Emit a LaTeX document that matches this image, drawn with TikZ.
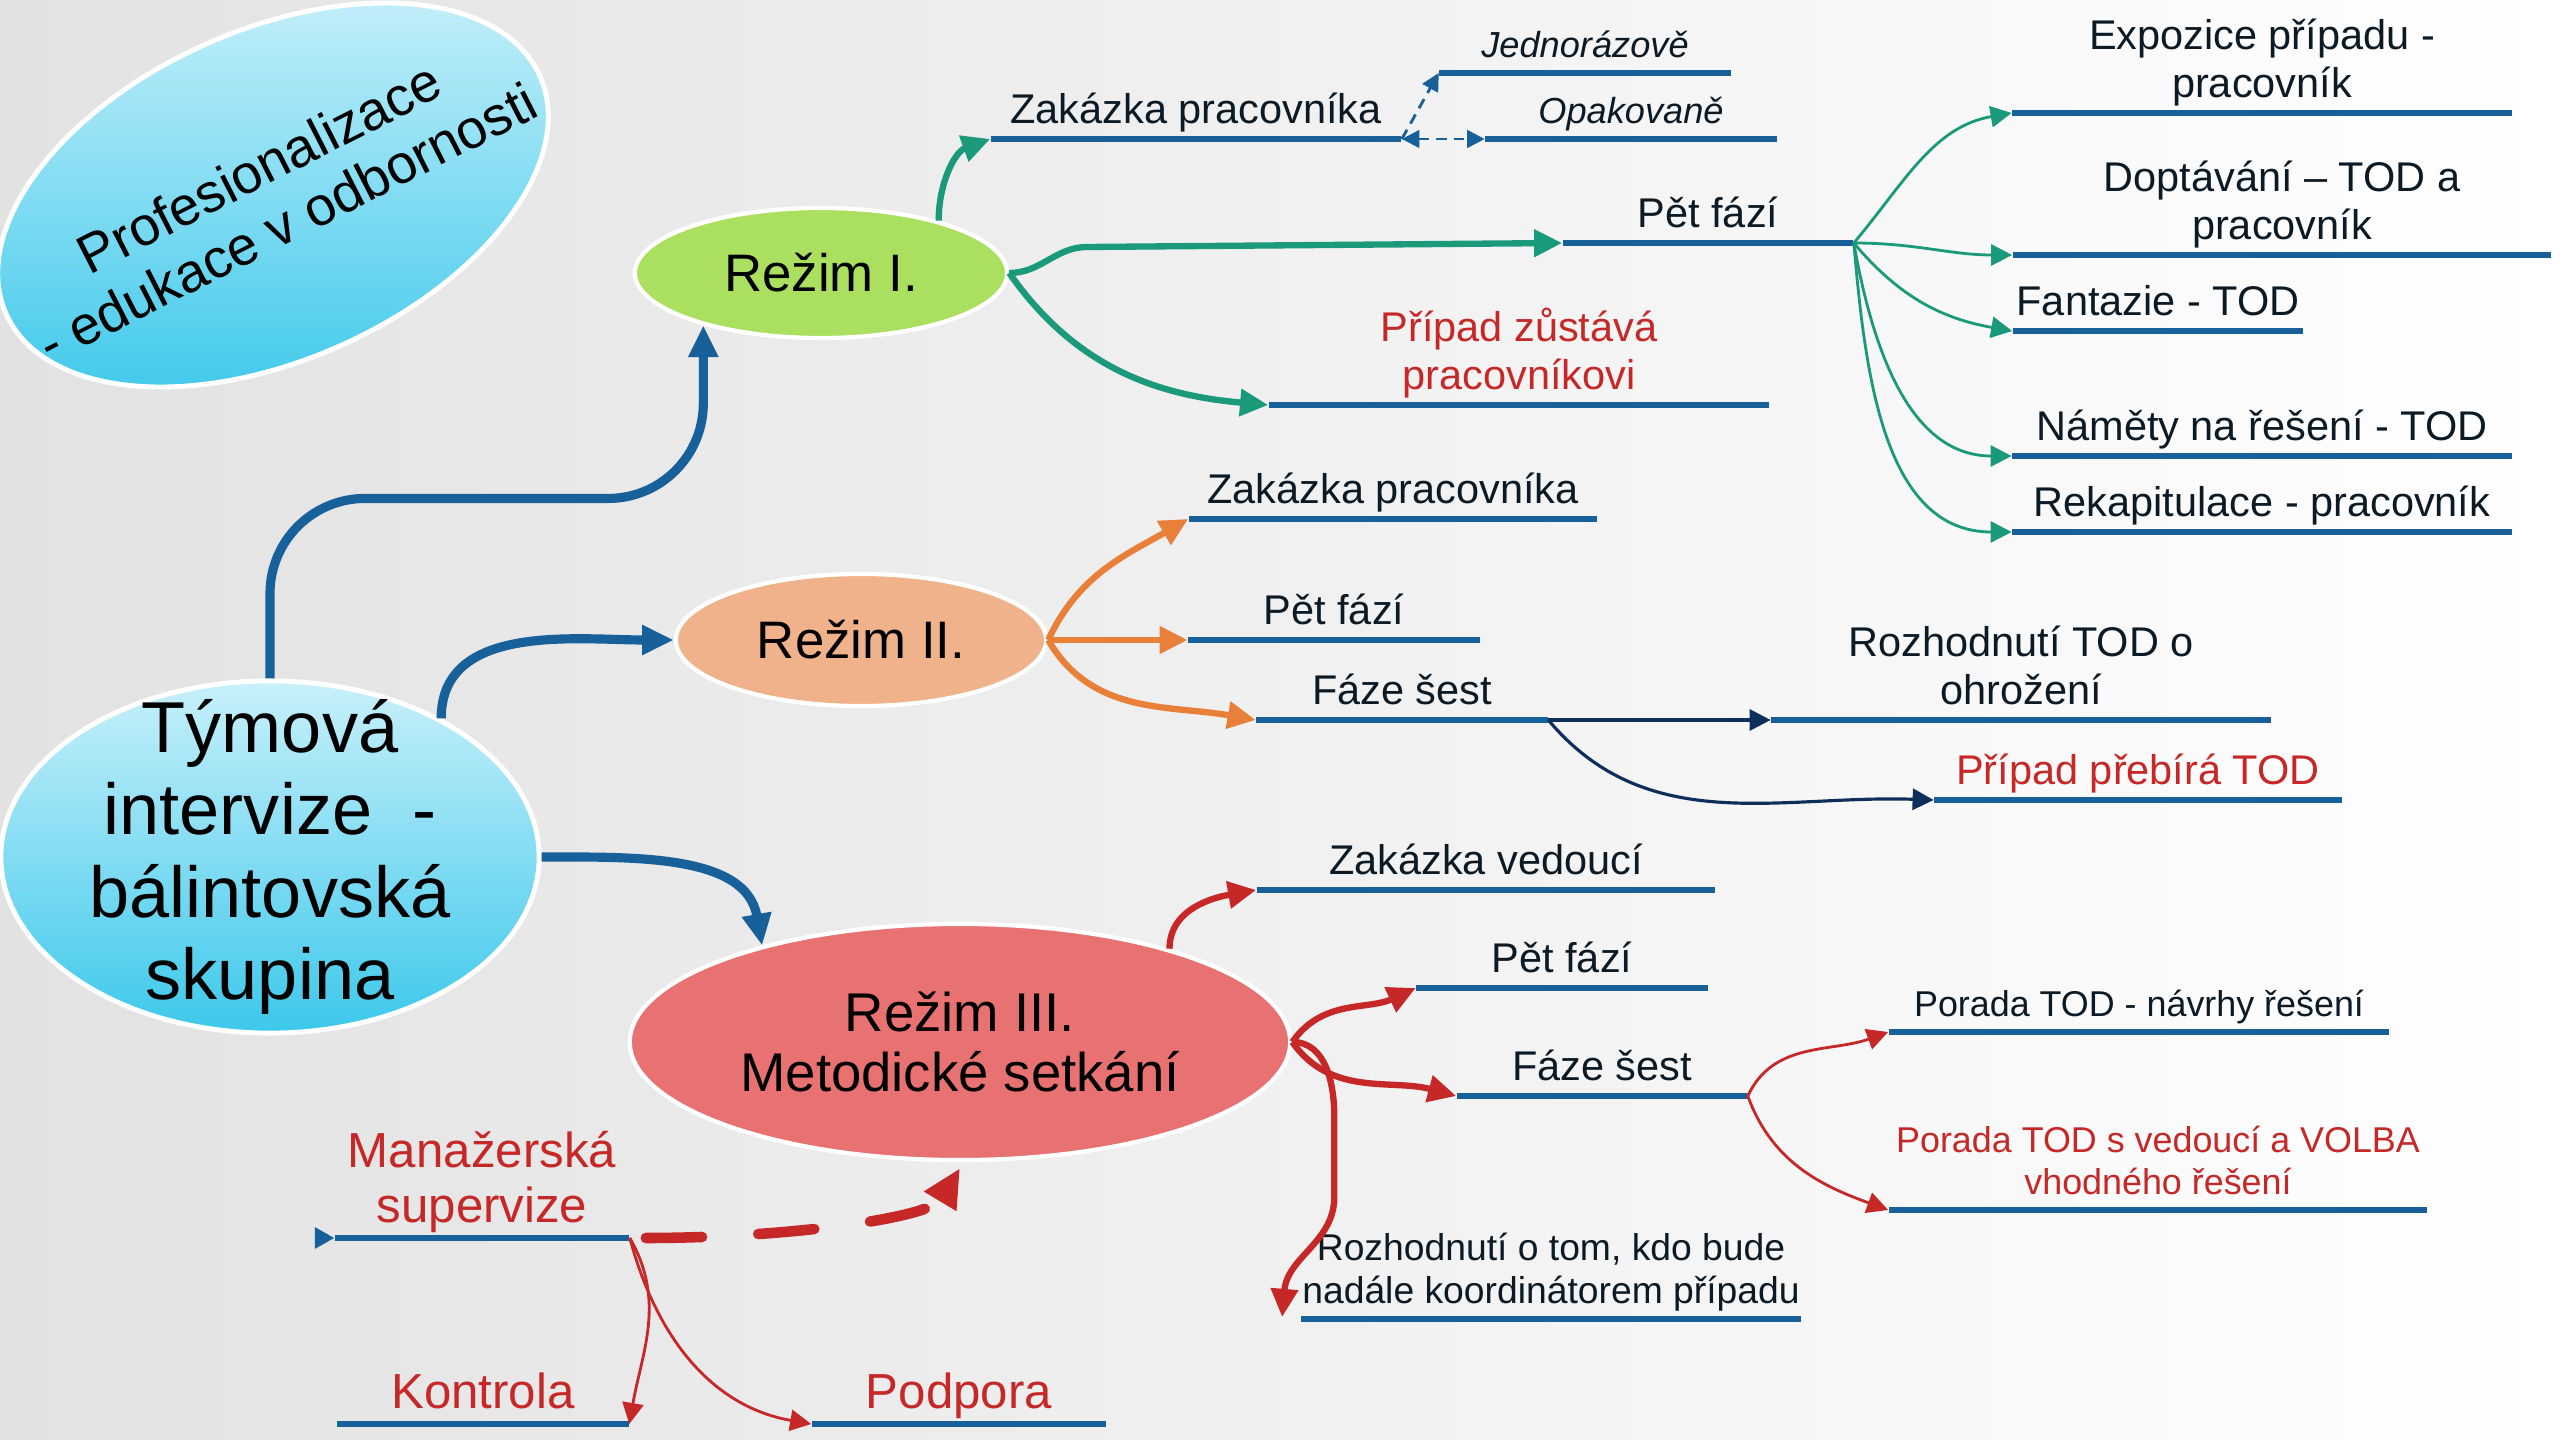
\documentclass[tikz,border=0pt]{standalone}
\usepackage{fontspec}
\setmainfont{Liberation Sans}
\usetikzlibrary{arrows.meta, shapes.geometric, positioning}

\definecolor{barblue}{HTML}{17609A}
\definecolor{tealc}{HTML}{1B9A7B}
\definecolor{orangec}{HTML}{E8803A}
\definecolor{navyc}{HTML}{0E2E5C}
\definecolor{redc}{HTML}{C62828}
\definecolor{textdark}{HTML}{0C1A26}
\definecolor{greenfill}{HTML}{ABDF5F}
\definecolor{peachfill}{HTML}{F0B28A}
\definecolor{rosefill}{HTML}{E87272}
\definecolor{cyanlight}{HTML}{C8F0FA}
\definecolor{cyandark}{HTML}{3CC8EB}
\definecolor{bgleft}{HTML}{E2E2E2}

\begin{document}
\begin{tikzpicture}[x=0.01cm, y=0.01cm,
    ubar/.style={rectangle, fill=barblue, inner sep=0pt, minimum height=0.065cm},
    lbl/.style={inner sep=0pt, text depth=0.22em, align=center, text=textdark,
        font=\fontsize{11.8}{13.6}\selectfont},
    smalllbl/.style={lbl, font=\fontsize{10.2}{11.7}\selectfont},
    redlbl/.style={lbl, text=redc, font=\fontsize{14}{15.4}\selectfont},
    rezim/.style={ellipse, draw=white, line width=1.2pt, inner sep=1pt,
        font=\fontsize{15}{17.2}\selectfont},
    bubble/.style={ellipse, draw=white, line width=1.4pt, top color=cyanlight, bottom color=cyandark},
    mainarr/.style={draw=barblue, line width=2.6pt, -{Triangle[length=9pt,width=8pt]}},
    tealthick/.style={draw=tealc, line width=1.8pt, -{Triangle[length=8pt,width=7.5pt]}},
    tealthin/.style={draw=tealc, line width=0.8pt, -{Triangle[length=6pt,width=6pt]}},
    orangearr/.style={draw=orangec, line width=1.8pt, -{Triangle[length=8pt,width=7.5pt]}},
    navyarr/.style={draw=navyc, line width=0.9pt, -{Triangle[length=6pt,width=6pt]}},
    redthick/.style={draw=redc, line width=1.8pt, -{Triangle[length=8pt,width=7.5pt]}},
    redthin/.style={draw=redc, line width=0.8pt, -{Triangle[length=6pt,width=6pt]}},
    dotarr/.style={draw=barblue, line width=0.8pt, densely dashed},
    dasharr/.style={draw=redc, line width=3pt, line cap=round, dash pattern=on 16pt off 16pt,
        -{Triangle[length=11pt,width=10pt]}}
]
    \useasboundingbox (0,0) rectangle (2560,-1440);
    \fill[left color=bgleft, right color=white] (0,0) rectangle (2560,-1440);

    % bubbles and modes
    \node[bubble, rotate=24, minimum width=5.84cm, minimum height=3.30cm] (prof) at (273,-195) {};
    \node[rotate=27, align=center, font=\fontsize{15.5}{17.5}\selectfont] (prof-t) at (prof.center) {Profesionalizace\\- edukace v odbornosti};
    \node[bubble, minimum width=5.38cm, minimum height=3.52cm] (tymova) at (270,-857) {};
    \node[align=center, font=\fontsize{20.5}{23.4}\selectfont] (tymova-t) at (tymova.center) {Týmová\\intervize\ \ -\\bálintovská\\skupina};

    \node[rezim, fill=greenfill, minimum width=3.72cm, minimum height=1.30cm] (rezimI) at (821,-273) {Režim I.};
    \node[rezim, fill=peachfill, minimum width=3.70cm, minimum height=1.32cm] (rezimII) at (861,-640) {Režim II.};
    \node[rezim, fill=rosefill, minimum width=6.60cm, minimum height=2.36cm, align=center,
        font=\fontsize{15.5}{17.2}\selectfont] (rezimIII) at (960,-1042) {Režim III.\\Metodické setkání};

    % bars of mode I
    \node[ubar, minimum width=4.10cm] (zakI) at (1196,-139) {};
    \node[ubar, minimum width=2.91cm] (jedno) at (1585,-73) {};
    \node[ubar, minimum width=2.91cm] (opak) at (1631,-139) {};
    \node[ubar, minimum width=2.90cm] (petI) at (1708,-243) {};
    \node[ubar, minimum width=5.00cm] (pripad) at (1519,-405) {};
    \node[ubar, minimum width=4.99cm] (expo) at (2262,-113) {};
    \node[ubar, minimum width=5.38cm] (dopt) at (2282,-255) {};
    \node[ubar, minimum width=2.90cm] (fant) at (2158,-331) {};
    \node[ubar, minimum width=4.99cm] (namety) at (2262,-456) {};
    \node[ubar, minimum width=4.99cm] (rekap) at (2262,-532) {};

    \node[lbl, above=1pt of zakI] (zakI-t) {Zakázka pracovníka};
    \node[smalllbl, above=1pt of jedno, font=\fontsize{10.3}{11.8}\selectfont\itshape] (jedno-t) {Jednorázově};
    \node[smalllbl, above=1pt of opak, font=\fontsize{10.3}{11.8}\selectfont\itshape] (opak-t) {Opakovaně};
    \node[lbl, above=1pt of petI] (petI-t) {Pět fází};
    \node[lbl, above=1pt of pripad, text=redc] (pripad-t) {Případ zůstává\\pracovníkovi};
    \node[lbl, above=1pt of expo] (expo-t) {Expozice případu -\\pracovník};
    \node[lbl, above=1pt of dopt] (dopt-t) {Doptávání – TOD a\\pracovník};
    \node[lbl, above=1pt of fant] (fant-t) {Fantazie - TOD};
    \node[lbl, above=1pt of namety] (namety-t) {Náměty na řešení - TOD};
    \node[lbl, above=1pt of rekap] (rekap-t) {Rekapitulace - pracovník};

    % bars of mode II
    \node[ubar, minimum width=4.08cm] (zakII) at (1393,-519) {};
    \node[ubar, minimum width=2.91cm] (petII) at (1334,-640) {};
    \node[ubar, minimum width=2.91cm] (fazeII) at (1402,-720) {};
    \node[ubar, minimum width=4.99cm] (rozh) at (2021,-720) {};
    \node[ubar, minimum width=4.07cm] (prebira) at (2138,-800) {};

    \node[lbl, above=1pt of zakII] (zakII-t) {Zakázka pracovníka};
    \node[lbl, above=1pt of petII] (petII-t) {Pět fází};
    \node[lbl, above=1pt of fazeII] (fazeII-t) {Fáze šest};
    \node[lbl, above=1pt of rozh] (rozh-t) {Rozhodnutí TOD o\\ohrožení};
    \node[lbl, above=1pt of prebira, text=redc] (prebira-t) {Případ přebírá TOD};

    % bars of mode III
    \node[ubar, minimum width=4.58cm] (zakIII) at (1486,-890) {};
    \node[ubar, minimum width=2.91cm] (petIII) at (1562,-988) {};
    \node[ubar, minimum width=2.90cm] (fazeIII) at (1602,-1096) {};
    \node[ubar, minimum width=5.00cm] (porA) at (2139,-1032) {};
    \node[ubar, minimum width=5.38cm] (porB) at (2158,-1210) {};
    \node[ubar, minimum width=5.00cm] (koord) at (1551,-1319) {};

    \node[lbl, above=1pt of zakIII] (zakIII-t) {Zakázka vedoucí};
    \node[lbl, above=1pt of petIII] (petIII-t) {Pět fází};
    \node[lbl, above=1pt of fazeIII] (fazeIII-t) {Fáze šest};
    \node[smalllbl, above=1pt of porA] (porA-t) {Porada TOD - návrhy řešení};
    \node[smalllbl, above=1pt of porB, text=redc] (porB-t) {Porada TOD s vedoucí a VOLBA\\vhodného řešení};
    \node[smalllbl, above=1pt of koord, font=\fontsize{10.6}{12.2}\selectfont] (koord-t) {Rozhodnutí o tom, kdo bude\\nadále koordinátorem případu};

    % managerial supervision
    \node[ubar, minimum width=2.94cm] (manaz) at (482,-1238) {};
    \node[ubar, minimum width=2.91cm] (kontr) at (483,-1424) {};
    \node[ubar, minimum width=2.94cm] (podp) at (959,-1424) {};

    \node[redlbl, above=1pt of manaz] (manaz-t) {Manažerská\\supervize};
    \node[redlbl, above=1pt of kontr] (kontr-t) {Kontrola};
    \node[redlbl, above=1pt of podp] (podp-t) {Podpora};

    % connectors
    \draw[mainarr, rounded corners=0.95cm] (tymova.north) -- ++(0,180) -| (rezimI.204);
    \draw[mainarr] (tymova.39) to[out=90,in=180] (rezimII.west);
    \draw[mainarr] (tymova.east) to[out=0,in=100] (rezimIII.154);

    \draw[tealthick] (rezimI.24) to[out=90,in=200] (zakI.west);
    \draw[tealthick] (rezimI.east) to[out=0,in=180] ++(78,26) -- (petI.west);
    \draw[tealthick] (rezimI.east) to[out=-55,in=175] (pripad.west);
    \draw[dotarr, -{Triangle[length=5pt,width=5pt]}] (zakI.east) -- (jedno.west);
    \draw[dotarr, {Triangle[length=5pt,width=5pt]}-{Triangle[length=5pt,width=5pt]}] (zakI.east) -- (opak.west);
    \foreach \t/\o/\i in {expo/50/190, dopt/0/180, fant/-50/170, namety/-80/180, rekap/-85/180}
        \draw[tealthin] (petI.east) to[out=\o,in=\i] (\t.west);

    \draw[orangearr] (rezimII.east) to[out=65,in=210] (zakII.west);
    \draw[orangearr] (rezimII.east) -- (petII.west);
    \draw[orangearr] (rezimII.east) to[out=-60,in=170] (fazeII.west);
    \draw[navyarr] (fazeII.east) -- (rozh.west);
    \draw[navyarr] (fazeII.east) to[out=-50,in=178] (prebira.west);

    \draw[redthick] (rezimIII.24) to[out=90,in=190] (zakIII.west);
    \draw[redthick] (rezimIII.east) to[out=55,in=205] (petIII.west);
    \draw[redthick] (rezimIII.east) to[out=-55,in=165] (fazeIII.west);
    \draw[redthick] (rezimIII.east) to[out=0,in=90] ++(42,-75) -- ++(0,-80)
        .. controls +(0,-45) and +(5,60) .. ([xshift=-0.18cm,yshift=0.02cm]koord.west);
    \draw[redthin] (fazeIII.east) to[out=65,in=200] (porA.west);
    \draw[redthin] (fazeIII.east) to[out=-70,in=160] (porB.west);

    \draw[draw=barblue, line width=0.8pt, -{Triangle[length=5.5pt,width=6pt]}] ([xshift=-5.5pt]manaz.west) -- (manaz.west);
    \draw[dasharr] ([xshift=0.16cm]manaz.east) .. controls +(140,0) and +(-30,-50) .. ([yshift=-0.06cm]rezimIII.south);
    \draw[redthin] (manaz.east) to[out=-60,in=80] (kontr.east);
    \draw[redthin] (manaz.east) to[out=-75,in=170] (podp.west);
\end{tikzpicture}
\end{document}
